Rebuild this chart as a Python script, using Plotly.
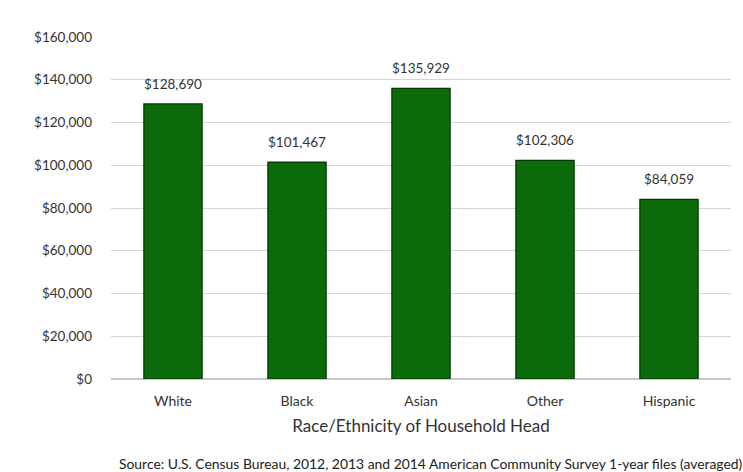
import plotly.graph_objects as go

# Mean household income by race/ethnicity of household head
groups = ["White", "Black", "Asian", "Other", "Hispanic"]
income = [128690, 101467, 135929, 102306, 84059]
tick_vals = [0, 20000, 40000, 60000, 80000, 100000, 120000, 140000, 160000]
tick_text = ["$0", "$20,000", "$40,000", "$60,000", "$80,000",
             "$100,000", "$120,000", "$140,000", "$160,000"]

FONT = "Lato, 'Open Sans', sans-serif"

fig = go.Figure(
    go.Bar(
        x=groups,
        y=income,
        marker=dict(color="#0b6b0b", line=dict(color="#073607", width=1.2)),
        width=0.47,
        hoverinfo="x+y",
    )
)

# value labels sitting a little above each bar
value_labels = [
    dict(x=g, y=v, text=f"${v:,.0f}", xref="x", yref="y",
         yanchor="bottom", yshift=10, showarrow=False,
         font=dict(family=FONT, size=13.5, color="#333333"))
    for g, v in zip(groups, income)
]

source_note = dict(
    text="Source: U.S. Census Bureau, 2012, 2013 and 2014 American Community Survey 1-year files (averaged)",
    xref="paper", yref="paper",
    x=1.0, y=0, xanchor="right", yanchor="top",
    yshift=-74, xshift=14,
    showarrow=False,
    font=dict(size=13.9, color="#222222"),
)

fig.update_layout(
    width=743,
    height=472,
    margin=dict(l=111, r=12, t=37, b=93),
    paper_bgcolor="white",
    plot_bgcolor="white",
    showlegend=False,
    font=dict(family=FONT, size=13, color="#333333"),
    xaxis=dict(
        showgrid=False,
        showline=False,
        ticks="",
        ticklabelstandoff=12,
        tickfont=dict(size=14, color="#333333"),
        title=dict(text="Race/Ethnicity of Household Head",
                   font=dict(size=17, color="#333333"), standoff=12),
    ),
    yaxis=dict(
        range=[0, 160000],
        tickvals=tick_vals,
        ticktext=tick_text,
        showgrid=True,
        gridcolor="#d4d4d4",
        gridwidth=1,
        zeroline=True,
        zerolinecolor="#c8c8c8",
        showline=False,
        ticks="",
        ticklabelstandoff=18,
        tickfont=dict(size=13.5, color="#333333"),
    ),
    annotations=value_labels + [source_note],
)

fig.write_html("out.html")
